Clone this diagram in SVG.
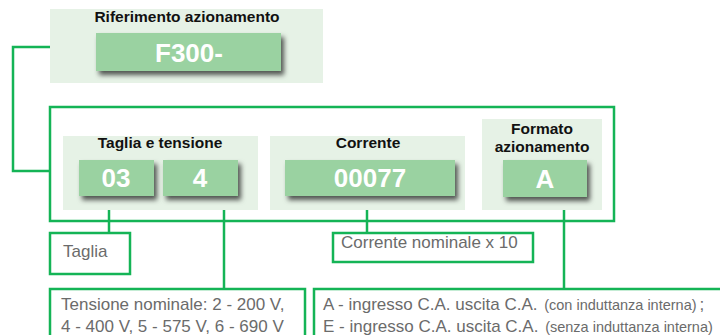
<svg xmlns="http://www.w3.org/2000/svg" width="720" height="335" viewBox="0 0 720 335">
<defs>
<filter id="sh" x="-20%" y="-30%" width="150%" height="180%">
<feDropShadow dx="3" dy="4" stdDeviation="2.5" flood-color="#000" flood-opacity="0.65"/>
</filter>
<style>
.panel{fill:#e6f2e6}
.code{fill:#9ad2a1;filter:url(#sh)}
.ctext{font-family:"Liberation Sans",Arial,sans-serif;font-weight:bold;font-size:26px;fill:#fff;text-anchor:middle}
.title{font-family:"Liberation Sans",Arial,sans-serif;font-weight:bold;font-size:15.5px;fill:#111;text-anchor:middle}
.frame{fill:#fff;stroke:#14b456;stroke-width:2.5}
.desc{font-family:"Liberation Sans",Arial,sans-serif;font-size:17px;fill:#6b6b6b}
.small{font-size:14.5px}
.conn{fill:none;stroke:#14b456;stroke-width:2.5}
</style>
</defs>
<rect width="720" height="335" fill="#fff"/>

<g id="connectors">
<polyline class="conn" points="50,47 13,47 13,171 50,171"/>
<rect class="conn" x="50" y="107" width="564" height="114"/>
<line class="conn" x1="109" y1="196" x2="109" y2="233"/>
<line class="conn" x1="224" y1="196" x2="224" y2="289"/>
<line class="conn" x1="367" y1="196" x2="367" y2="233"/>
<line class="conn" x1="564" y1="197" x2="564" y2="289"/>
</g>

<g id="rif">
<rect class="panel" x="50" y="9" width="273" height="74"/>
<text class="title" x="187" y="22">Riferimento azionamento</text>
<rect class="code" x="96" y="33" width="185" height="38"/>
<text class="ctext" x="189" y="62">F300-</text>
</g>

<g id="taglia-tensione">
<rect class="panel" x="63" y="136" width="195" height="74"/>
<text class="title" x="160" y="148">Taglia e tensione</text>
<rect class="code" x="79" y="160" width="75" height="36"/>
<text class="ctext" x="116" y="187">03</text>
<rect class="code" x="163" y="160" width="75" height="36"/>
<text class="ctext" x="200" y="187">4</text>
</g>

<g id="corrente">
<rect class="panel" x="270" y="136" width="195" height="74"/>
<text class="title" x="368" y="148">Corrente</text>
<rect class="code" x="285" y="160" width="170" height="36"/>
<text class="ctext" x="370" y="187">00077</text>
</g>

<g id="formato">
<rect class="panel" x="482" y="119" width="120" height="91"/>
<text class="title" x="542" y="134">Formato</text>
<text class="title" x="542" y="152">azionamento</text>
<rect class="code" x="503" y="160" width="84" height="37"/>
<text class="ctext" x="545" y="188">A</text>
</g>

<g id="desc-taglia">
<rect class="frame" x="50" y="233" width="80" height="41"/>
<text class="desc" x="63" y="257">Taglia</text>
</g>

<g id="desc-tensione">
<rect class="frame" x="50" y="289" width="255" height="60"/>
<text class="desc" x="61" y="310">Tensione nominale: 2 - 200 V,</text>
<text class="desc" x="61" y="332">4 - 400 V, 5 - 575 V, 6 - 690 V</text>
</g>

<g id="desc-corrente">
<rect class="frame" x="333" y="233" width="200" height="29"/>
<text class="desc" x="341" y="248">Corrente nominale x 10</text>
</g>

<g id="desc-formato">
<rect class="frame" x="314" y="289" width="410" height="60"/>
<text class="desc" x="323" y="310">A - ingresso C.A. uscita C.A. <tspan class="small" dx="2">(con induttanza interna)</tspan><tspan dx="3">;</tspan></text>
<text class="desc" x="323" y="332">E - ingresso C.A. uscita C.A. <tspan class="small" dx="2">(senza induttanza interna)</tspan></text>
</g>
</svg>
